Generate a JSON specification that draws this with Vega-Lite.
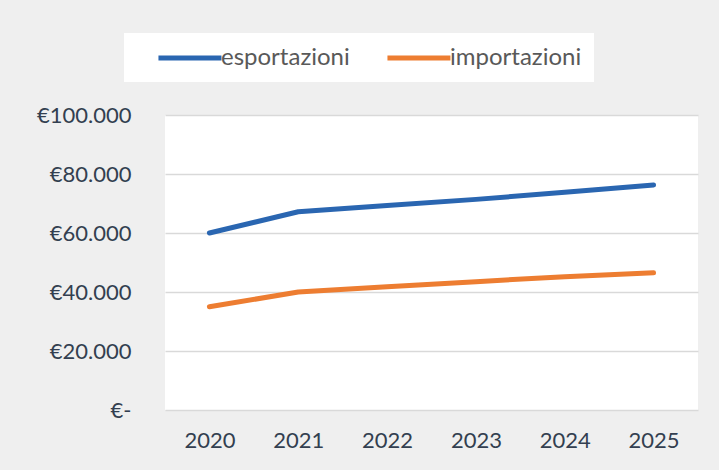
{
  "$schema": "https://vega.github.io/schema/vega-lite/v6.json",
  "width": 533,
  "height": 295,
  "autosize": {"type": "none"},
  "padding": {"left": 165, "top": 115, "right": 21, "bottom": 60},
  "background": "#efefef",
  "data": {
    "values": [
      {"anno": "2020", "serie": "esportazioni", "valore": 60000},
      {"anno": "2021", "serie": "esportazioni", "valore": 67200},
      {"anno": "2022", "serie": "esportazioni", "valore": 69300},
      {"anno": "2023", "serie": "esportazioni", "valore": 71400},
      {"anno": "2024", "serie": "esportazioni", "valore": 73800},
      {"anno": "2025", "serie": "esportazioni", "valore": 76300},
      {"anno": "2020", "serie": "importazioni", "valore": 35000},
      {"anno": "2021", "serie": "importazioni", "valore": 40000},
      {"anno": "2022", "serie": "importazioni", "valore": 41800},
      {"anno": "2023", "serie": "importazioni", "valore": 43500},
      {"anno": "2024", "serie": "importazioni", "valore": 45200},
      {"anno": "2025", "serie": "importazioni", "valore": 46500}
    ]
  },
  "mark": {"type": "line", "strokeWidth": 5, "strokeCap": "round", "strokeJoin": "round"},
  "encoding": {
    "x": {
      "field": "anno",
      "type": "ordinal",
      "scale": {"type": "point", "padding": 0.5},
      "axis": {
        "title": null,
        "labelAngle": 0,
        "labelFont": "Lato",
        "labelFontSize": 22,
        "labelColor": "#333f50",
        "labelPadding": 20,
        "ticks": false,
        "domain": false,
        "grid": false
      }
    },
    "y": {
      "field": "valore",
      "type": "quantitative",
      "scale": {"domain": [0, 100000]},
      "axis": {
        "title": null,
        "values": [0, 20000, 40000, 60000, 80000, 100000],
        "labelExpr": "datum.value == 0 ? '€-' : '€' + format(datum.value / 1000, 'd') + '.000'",
        "labelFont": "Lato",
        "labelFontSize": 22,
        "labelColor": "#333f50",
        "labelPadding": 34,
        "ticks": false,
        "domain": false,
        "grid": true,
        "gridColor": "#d9d9d9",
        "gridWidth": 1.5
      }
    },
    "color": {
      "field": "serie",
      "type": "nominal",
      "scale": {"domain": ["esportazioni", "importazioni"], "range": ["#2a66b1", "#ed7d31"]},
      "legend": {
        "title": null,
        "orient": "none",
        "legendX": -41,
        "legendY": -82,
        "direction": "horizontal",
        "symbolType": "M0.9,0H6.9",
        "symbolSize": 441,
        "symbolStrokeWidth": 5,
        "labelFont": "Lato",
        "labelFontSize": 24,
        "labelColor": "#595959",
        "labelOffset": 59,
        "columnPadding": 15,
        "fillColor": "white",
        "padding": 12
      }
    }
  },
  "config": {"view": {"fill": "white", "stroke": null}}
}
